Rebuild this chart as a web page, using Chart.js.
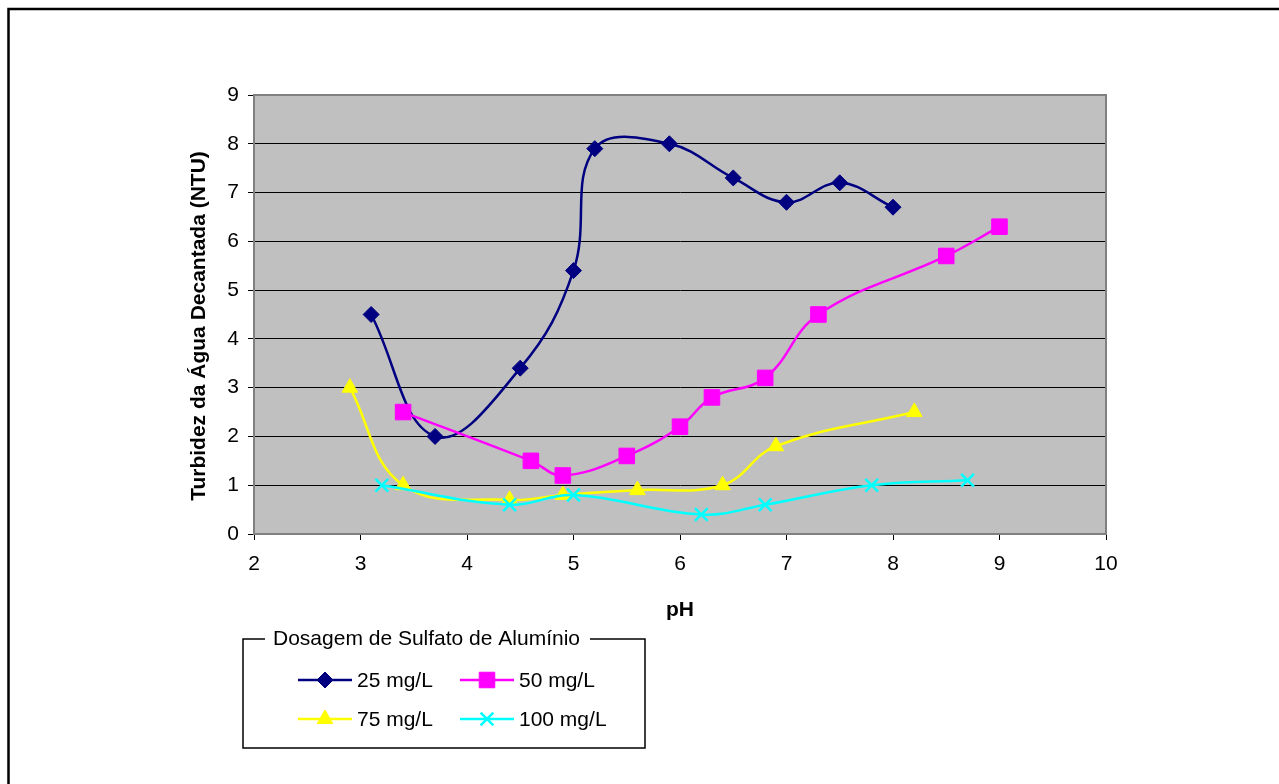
<!DOCTYPE html>
<html lang="pt">
<head>
  <meta charset="UTF-8" />
  <title>Turbidez x pH</title>
  <script src="https://cdn.jsdelivr.net/npm/chart.js"></script>
  <style>
    html, body { margin: 0; padding: 0; background: #fff; }
    canvas { display: block; }
  </style>
</head>
<body>
  <canvas id="turbidez" width="1279" height="784"></canvas>

  <script>
    // pH x turbidez da água decantada, por dosagem de sulfato de alumínio
    const dosagens = ['25 mg/L', '50 mg/L', '75 mg/L', '100 mg/L'];

    const ph25 = [3.1, 3.7, 4.5, 5.0, 5.2, 5.9, 6.5, 7.0, 7.5, 8.0];
    const ntu25 = [4.5, 2.0, 3.4, 5.4, 7.9, 8.0, 7.3, 6.8, 7.2, 6.7];

    const ph50 = [3.4, 4.6, 4.9, 5.5, 6.0, 6.3, 6.8, 7.3, 8.5, 9.0];
    const ntu50 = [2.5, 1.5, 1.2, 1.6, 2.2, 2.8, 3.2, 4.5, 5.7, 6.3];

    const ph75 = [2.9, 3.4, 4.4, 4.9, 5.6, 6.4, 6.9, 8.2];
    const ntu75 = [3.0, 1.0, 0.7, 0.8, 0.9, 1.0, 1.8, 2.5];

    const ph100 = [3.2, 4.4, 5.0, 6.2, 6.8, 7.8, 8.7];
    const ntu100 = [1.0, 0.6, 0.8, 0.4, 0.6, 1.0, 1.1];

    const xTicks = [2, 3, 4, 5, 6, 7, 8, 9, 10];
    const yTicks = [0, 1, 2, 3, 4, 5, 6, 7, 8, 9];

    const tituloY = 'Turbidez da Água Decantada (NTU)';
    const tituloLegenda = 'Dosagem de Sulfato de Alumínio';

    const FONT = "'Liberation Sans', Arial, sans-serif";
    const FS = 21;

    const pares = (xs, ys) => xs.map((x, i) => ({ x: x, y: ys[i] }));

    function serie(label, xs, ys, cor, estilo, raio, ordem) {
      return {
        label: label,
        data: pares(xs, ys),
        showLine: true,
        tension: 0.4,
        borderColor: cor,
        borderWidth: 2.5,
        backgroundColor: cor,
        pointStyle: estilo,
        pointRadius: raio,
        pointBorderColor: cor,
        pointBackgroundColor: cor,
        pointBorderWidth: estilo === 'crossRot' ? 2.5 : 1,
        order: ordem
      };
    }

    // fundo cinza da área de plotagem, moldura externa, título do eixo y e legenda em caixa
    const moldura = {
      id: 'moldura',
      beforeDraw(chart) {
        const { ctx, chartArea: a } = chart;
        ctx.save();
        ctx.fillStyle = '#c0c0c0';
        ctx.fillRect(a.left, a.top, a.right - a.left, a.bottom - a.top);
        ctx.restore();
      },
      afterDraw(chart) {
        const { ctx, chartArea: a } = chart;
        ctx.save();
        // borda direita e superior da área de plotagem
        ctx.strokeStyle = '#808080';
        ctx.lineWidth = 2;
        ctx.beginPath();
        ctx.moveTo(a.left, a.top);
        ctx.lineTo(a.right, a.top);
        ctx.lineTo(a.right, a.bottom);
        ctx.stroke();

        // moldura externa do gráfico
        ctx.strokeStyle = '#000';
        ctx.lineWidth = 2.5;
        ctx.beginPath();
        ctx.moveTo(8.5, 790);
        ctx.lineTo(8.5, 9);
        ctx.lineTo(1285, 9);
        ctx.stroke();

        // título do eixo y
        ctx.save();
        ctx.translate(199, 326);
        ctx.rotate(-Math.PI / 2);
        ctx.font = 'bold ' + FS + 'px ' + FONT;
        ctx.fillStyle = '#000';
        ctx.textAlign = 'center';
        ctx.textBaseline = 'middle';
        ctx.fillText(tituloY, 0, 0);
        ctx.restore();

        // caixa da legenda
        const L = 243, T = 639, R = 645, B = 748;
        ctx.font = FS + 'px ' + FONT;
        const tw = ctx.measureText(tituloLegenda).width;
        const tx = 273;
        ctx.strokeStyle = '#000';
        ctx.lineWidth = 1.5;
        ctx.beginPath();
        ctx.moveTo(tx - 8, T);
        ctx.lineTo(L, T);
        ctx.lineTo(L, B);
        ctx.lineTo(R, B);
        ctx.lineTo(R, T);
        ctx.lineTo(tx + tw + 10, T);
        ctx.stroke();
        ctx.fillStyle = '#000';
        ctx.textBaseline = 'middle';
        ctx.textAlign = 'left';
        ctx.fillText(tituloLegenda, tx, T);

        const cols = [298, 460];
        const rows = [680, 719];
        chart.data.datasets.forEach((ds, i) => {
          const x0 = cols[i % 2], y0 = rows[Math.floor(i / 2)];
          ctx.strokeStyle = ds.borderColor;
          ctx.lineWidth = 2.5;
          ctx.beginPath();
          ctx.moveTo(x0, y0);
          ctx.lineTo(x0 + 54, y0);
          ctx.stroke();
          ctx.fillStyle = ds.pointBackgroundColor;
          ctx.lineWidth = ds.pointBorderWidth;
          Chart.helpers.drawPoint(ctx, {
            pointStyle: ds.pointStyle,
            radius: ds.pointRadius,
            rotation: 0,
            borderWidth: ds.pointBorderWidth
          }, x0 + 27, y0);
          ctx.fillStyle = '#000';
          ctx.font = FS + 'px ' + FONT;
          ctx.fillText(ds.label, x0 + 59, y0 + 1);
        });
        ctx.restore();
      }
    };

    new Chart(document.getElementById('turbidez'), {
      type: 'scatter',
      data: {
        datasets: [
          serie(dosagens[0], ph25, ntu25, '#000080', 'rectRot', 8, 4),
          serie(dosagens[1], ph50, ntu50, '#ff00ff', 'rect', 11, 3),
          serie(dosagens[2], ph75, ntu75, '#ffff00', 'triangle', 9, 2),
          serie(dosagens[3], ph100, ntu100, '#00ffff', 'crossRot', 9, 1)
        ]
      },
      options: {
        responsive: false,
        animation: false,
        layout: { padding: { left: 0, top: 95, right: 173, bottom: 0 } },
        plugins: {
          legend: { display: false },
          tooltip: { enabled: false }
        },
        scales: {
          x: {
            type: 'linear',
            min: xTicks[0],
            max: xTicks[xTicks.length - 1],
            afterBuildTicks: s => { s.ticks = xTicks.map(v => ({ value: v })); },
            afterFit: s => { s.height = 250; },
            border: { display: true, color: '#808080', width: 2 },
            grid: { drawOnChartArea: false, drawTicks: true, tickLength: 6, color: '#000', tickColor: '#000' },
            ticks: { color: '#000', font: { family: FONT, size: FS }, padding: 12 },
            title: {
              display: true, text: 'pH', color: '#000',
              font: { family: FONT, size: FS, weight: 'bold' },
              padding: { top: 0, bottom: 161 }
            }
          },
          y: {
            type: 'linear',
            min: yTicks[0],
            max: yTicks[yTicks.length - 1],
            afterBuildTicks: s => { s.ticks = yTicks.map(v => ({ value: v })); },
            afterFit: s => { s.width = 254; },
            border: { display: true, color: '#808080', width: 2 },
            grid: {
              drawTicks: true, tickLength: 6, lineWidth: 1,
              color: c => (c.tick && (c.tick.value === 0 || c.tick.value === 9)) ? '#808080' : '#000',
              tickColor: '#000'
            },
            ticks: { color: '#000', font: { family: FONT, size: FS }, padding: 9 }
          }
        }
      },
      plugins: [moldura]
    });
  </script>
</body>
</html>
